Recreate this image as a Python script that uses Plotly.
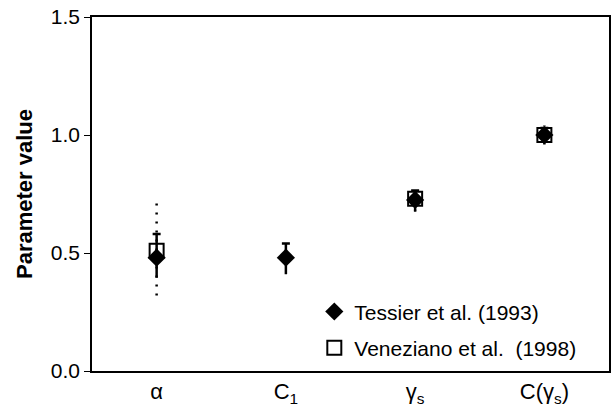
import plotly.graph_objects as go

categories = ["α", "C<sub>1</sub>", "γ<sub>s</sub>", "C(γ<sub>s</sub>)"]
tessier = [0.48, 0.48, 0.725, 1.0]
tessier_up = [0.10, 0.06, 0.04, 0.03]
tessier_down = [0.085, 0.07, 0.045, 0.035]
veneziano = [0.51, None, 0.73, 1.0]
ven_up = [0.20, None, 0.055, 0.04]
ven_down = [0.19, None, 0.055, 0.04]

FONT = "Liberation Sans, Arial, sans-serif"
fig = go.Figure()

# dotted error bars (Veneziano)
dx, dy = [], []
for c, v, u, d in zip(categories, veneziano, ven_up, ven_down):
    if v is None:
        continue
    dx += [c, c, None]
    dy += [v - d, v + u, None]
fig.add_trace(go.Scatter(x=dx, y=dy, mode="lines", showlegend=False,
                         line=dict(color="black", width=2.5, dash="2px,7px"),
                         hoverinfo="skip"))

# Veneziano squares
fig.add_trace(go.Scatter(x=categories, y=veneziano, mode="markers",
                         name="Veneziano et al.  (1998)", legendgroup="b", legendrank=2,
                         marker=dict(symbol="square-open", size=14, color="black",
                                     line=dict(width=2, color="black"))))

# Tessier lower error (no cap)
fig.add_trace(go.Scatter(x=categories, y=tessier, mode="markers", showlegend=False,
                         marker=dict(size=1, color="rgba(0,0,0,0)"),
                         error_y=dict(type="data", symmetric=False,
                                      array=[0] * len(tessier), arrayminus=tessier_down,
                                      color="black", thickness=2.5, width=0),
                         hoverinfo="skip"))
# Tessier upper error (with cap)
fig.add_trace(go.Scatter(x=categories, y=tessier, mode="markers", showlegend=False,
                         marker=dict(size=1, color="rgba(0,0,0,0)"),
                         error_y=dict(type="data", symmetric=False,
                                      array=tessier_up, arrayminus=[0] * len(tessier),
                                      color="black", thickness=2.5, width=4),
                         hoverinfo="skip"))
# Tessier diamonds
fig.add_trace(go.Scatter(x=categories, y=tessier, mode="markers",
                         name="Tessier et al. (1993)", legendgroup="a", legendrank=1,
                         marker=dict(symbol="diamond", size=14, color="black")))

fig.update_layout(
    width=616, height=415,
    margin=dict(l=92, r=5, t=15, b=44),
    paper_bgcolor="white", plot_bgcolor="white",
    font=dict(family=FONT, size=20, color="black"),
    showlegend=True,
    legend=dict(x=0.43, y=0.225, xanchor="left", yanchor="top",
                bgcolor="rgba(0,0,0,0)", traceorder="grouped", tracegroupgap=6,
                font=dict(size=21)),
    xaxis=dict(type="category", categoryorder="array", categoryarray=categories,
               range=[-0.5, 3.5], showgrid=False, zeroline=False,
               showline=True, linecolor="black", linewidth=1.5, mirror=True,
               ticks="", tickfont=dict(size=22)),
    yaxis=dict(range=[0, 1.5], tickvals=[0, 0.5, 1.0, 1.5], tickformat=".1f",
               showgrid=False, zeroline=False, showline=True, linecolor="black",
               linewidth=1.5, mirror=True, ticks="outside", ticklen=6,
               tickcolor="black", tickfont=dict(size=21),
               title=dict(text="<b>Parameter value</b>", font=dict(size=22), standoff=12)),
)

fig.write_html("out.html")
